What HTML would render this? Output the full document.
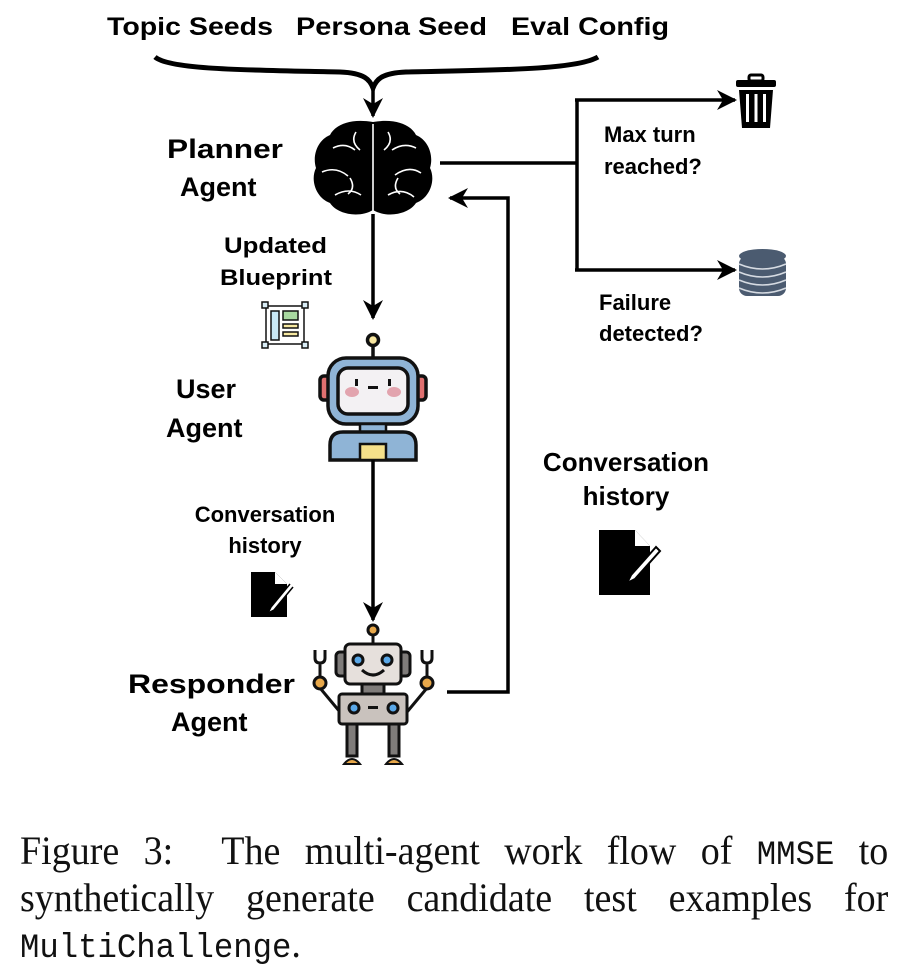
<!DOCTYPE html>
<html><head><meta charset="utf-8"><style>
html,body{margin:0;padding:0;background:#fff;}
body{position:relative;width:902px;height:974px;overflow:hidden;}
svg{display:block;}
.b{font-family:"Liberation Sans",Arial,sans-serif;font-weight:bold;fill:#000;}
.cap{position:absolute;left:20px;width:914px;transform:scaleX(0.95);transform-origin:0 0;font-family:"Liberation Serif",serif;font-size:40px;line-height:40px;color:#111;text-align:justify;text-align-last:justify;white-space:nowrap;}
.mm{font-family:"Liberation Mono",monospace;font-size:34px;}
</style></head><body>
<svg width="902" height="974" viewBox="0 0 902 974" xmlns="http://www.w3.org/2000/svg">
<defs>
<marker id="ah" viewBox="0 0 20 20" refX="18" refY="10" markerWidth="20" markerHeight="20" markerUnits="userSpaceOnUse" orient="auto">
<path d="M0,0 L20,10 L0,20 L6,10 Z" fill="#000"/>
</marker>
</defs>
<text class="b" x="107" y="35" font-size="25" textLength="166" lengthAdjust="spacingAndGlyphs">Topic Seeds</text>
<text class="b" x="296" y="35" font-size="25" textLength="191" lengthAdjust="spacingAndGlyphs">Persona Seed</text>
<text class="b" x="511" y="35" font-size="25" textLength="158" lengthAdjust="spacingAndGlyphs">Eval Config</text>
<path d="M155,57 C170,70 250,70 340,72 C365,73 370,80 373,88 C376,80 381,73 406,72 C496,70 576,70 598,57" fill="none" stroke="#000" stroke-width="5"/>
<line x1="373" y1="86" x2="373" y2="116" stroke="#000" stroke-width="3.5" marker-end="url(#ah)"/>
<g>
<path d="M373,122 C350,118 335,125 330,135 C318,140 312,155 316,168 C310,180 316,198 330,203 C338,215 360,218 373,210 C386,218 408,215 416,203 C430,198 436,180 430,168 C434,155 428,140 416,135 C411,125 396,118 373,122 Z" fill="#000"/>
<path d="M373,124 V212 M333,148 q12,-6 22,2 M392,150 q12,-8 24,-2 M322,172 q14,-6 26,4 M395,175 q14,-10 26,-2 M335,195 q14,-8 26,0 M388,195 q14,-8 26,2 M356,132 q-6,10 4,18 M388,132 q6,10 -4,18 M350,178 q6,10 -2,16 M398,178 q-6,10 2,16" fill="none" stroke="#fff" stroke-width="1.6"/>
</g>
<text class="b" x="167" y="158" font-size="27" textLength="116" lengthAdjust="spacingAndGlyphs">Planner</text>
<text class="b" x="180" y="196" font-size="27">Agent</text>
<line x1="440" y1="163" x2="577" y2="163" stroke="#000" stroke-width="3.5"/>
<line x1="577" y1="100" x2="577" y2="270" stroke="#000" stroke-width="3.5"/>
<line x1="575" y1="100" x2="735" y2="100" stroke="#000" stroke-width="3.5" marker-end="url(#ah)"/>
<line x1="575" y1="270" x2="735" y2="270" stroke="#000" stroke-width="3.5" marker-end="url(#ah)"/>
<g fill="#000">
<rect x="749" y="75" width="14" height="6" rx="2" fill="none" stroke="#000" stroke-width="3"/>
<rect x="736" y="80" width="40" height="7" rx="2"/>
<path d="M739,90 H773 L770,128 H742 Z"/>
<rect x="746" y="94" width="3" height="28" fill="#fff"/>
<rect x="754.5" y="94" width="3" height="28" fill="#fff"/>
<rect x="763" y="94" width="3" height="28" fill="#fff"/>
</g>
<g>
<rect x="739" y="256" width="47" height="40" rx="8" fill="#4b5b70"/>
<ellipse cx="762.5" cy="256" rx="23.5" ry="7" fill="#4b5b70"/>
<path d="M739,264 q23.5,10 47,0 M739,272 q23.5,10 47,0 M739,280 q23.5,10 47,0 M739,288 q23.5,10 47,0" fill="none" stroke="#d6dbe2" stroke-width="1.5"/>
</g>
<text class="b" x="604" y="142" font-size="22">Max turn</text>
<text class="b" x="604" y="174" font-size="22">reached?</text>
<text class="b" x="599" y="310" font-size="22">Failure</text>
<text class="b" x="599" y="341" font-size="22">detected?</text>
<line x1="373" y1="214" x2="373" y2="318" stroke="#000" stroke-width="3.5" marker-end="url(#ah)"/>
<text class="b" x="224" y="253" font-size="22" textLength="103" lengthAdjust="spacingAndGlyphs">Updated</text>
<text class="b" x="220" y="285" font-size="22" textLength="112" lengthAdjust="spacingAndGlyphs">Blueprint</text>
<g stroke="#111" stroke-width="1.5">
<rect x="266" y="306" width="38" height="38" fill="#fff"/>
<rect x="271" y="311" width="8" height="29" fill="#c9e8f5"/>
<rect x="283" y="311" width="15" height="9" fill="#a8d8a0"/>
<rect x="283" y="324" width="15" height="4" fill="#f6e8a0"/>
<rect x="283" y="332" width="15" height="4" fill="#f6e8a0"/>
<rect x="262" y="302" width="6" height="6" fill="#d8ecf5"/>
<rect x="302" y="302" width="6" height="6" fill="#d8ecf5"/>
<rect x="262" y="342" width="6" height="6" fill="#d8ecf5"/>
<rect x="302" y="342" width="6" height="6" fill="#d8ecf5"/>
</g>
<g stroke="#111" stroke-width="3.5">
<line x1="373" y1="345" x2="373" y2="358"/>
<circle cx="373" cy="340" r="5.5" fill="#f8e7a0"/>
<rect x="320" y="376" width="12" height="24" rx="4" fill="#e07070"/>
<rect x="414" y="376" width="12" height="24" rx="4" fill="#e07070"/>
<rect x="328" y="358" width="90" height="66" rx="18" fill="#8fb4d6"/>
<rect x="338" y="368" width="70" height="46" rx="10" fill="#f3f1f3"/>
<rect x="360" y="424" width="26" height="8" fill="#8fb4d6" stroke-width="2.5"/>
<path d="M330,460 V445 q0,-13 13,-13 H403 q13,0 13,13 V460 Z" fill="#8fb4d6"/>
<rect x="360" y="444" width="26" height="16" fill="#f5e08a" stroke-width="2.5"/>
</g>
<ellipse cx="352" cy="392" rx="7" ry="5" fill="#e2a4ae"/>
<ellipse cx="394" cy="392" rx="7" ry="5" fill="#e2a4ae"/>
<rect x="355" y="379" width="3" height="7" fill="#111"/>
<rect x="388" y="379" width="3" height="7" fill="#111"/>
<rect x="368" y="386" width="10" height="3" fill="#111"/>
<text class="b" x="176" y="398" font-size="27">User</text>
<text class="b" x="166" y="437" font-size="27">Agent</text>
<line x1="373" y1="460" x2="373" y2="620" stroke="#000" stroke-width="3.5" marker-end="url(#ah)"/>
<text class="b" x="265" y="522" font-size="22" text-anchor="middle">Conversation</text>
<text class="b" x="265" y="553" font-size="22" text-anchor="middle">history</text>
<path d="M251,572 H275 L287,584 V617 H251 Z" fill="#000"/>
<path d="M275,572 V584 H287" fill="#fff"/>
<path d="M290,584 L271,607 L268,613 L274,610 L293,587" fill="#fff" stroke="#000" stroke-width="1.5"/>
<g stroke="#111" stroke-width="3">
<line x1="373" y1="636" x2="373" y2="645"/>
<circle cx="373" cy="630" r="5" fill="#e8a84a"/>
<path d="M315,650 v8 q0,5 5,5 q5,0 5,-5 v-8 M320,663 v18" fill="none"/>
<path d="M422,650 v8 q0,5 5,5 q5,0 5,-5 v-8 M427,663 v18" fill="none"/>
<line x1="320" y1="688" x2="345" y2="718"/>
<line x1="427" y1="688" x2="402" y2="718"/>
<circle cx="320" cy="683" r="6" fill="#e8a84a"/>
<circle cx="427" cy="683" r="6" fill="#e8a84a"/>
<rect x="336" y="652" width="12" height="24" rx="4" fill="#7f7c7a"/>
<rect x="398" y="652" width="12" height="24" rx="4" fill="#7f7c7a"/>
<rect x="345" y="644" width="56" height="40" rx="5" fill="#e6e0dc"/>
<rect x="362" y="684" width="22" height="10" fill="#7f7c7a"/>
<rect x="339" y="694" width="68" height="30" rx="3" fill="#c9c2bd"/>
<rect x="347" y="724" width="10" height="32" fill="#7f7c7a"/>
<rect x="389" y="724" width="10" height="32" fill="#7f7c7a"/>
<circle cx="358" cy="660" r="5" fill="#5aa8e8"/>
<circle cx="387" cy="660" r="5" fill="#5aa8e8"/>
<circle cx="354" cy="708" r="5" fill="#5aa8e8"/>
<circle cx="393" cy="708" r="5" fill="#5aa8e8"/>
</g>
<path d="M362,670 q11,10 22,0" fill="none" stroke="#111" stroke-width="3"/>
<rect x="368" y="706" width="10" height="3" fill="#111"/>
<path d="M344,764 q8,-10 16,0 Z M386,764 q8,-10 16,0 Z" fill="#e8a84a" stroke="#111" stroke-width="2"/>
<text class="b" x="128" y="693" font-size="27" textLength="167" lengthAdjust="spacingAndGlyphs">Responder</text>
<text class="b" x="171" y="731" font-size="27">Agent</text>
<polyline points="447,692 508,692 508,198 450,198" fill="none" stroke="#000" stroke-width="3.5" marker-end="url(#ah)"/>
<text class="b" x="626" y="471" font-size="26" text-anchor="middle">Conversation</text>
<text class="b" x="626" y="505" font-size="26" text-anchor="middle">history</text>
<path d="M599,530 H635 L650,546 V595 H599 Z" fill="#000"/>
<path d="M635,530 V546 H650" fill="#fff"/>
<path d="M656,547 L631,575 L627,583 L635,579 L660,551 Z" fill="#fff" stroke="#000" stroke-width="2"/>
</svg>
<div class="cap" style="top:831px;">Figure 3:&nbsp; The multi-agent work flow of <span class="mm">MMSE</span> to</div>
<div class="cap" style="top:878px;">synthetically generate candidate test examples for</div>
<div class="cap" style="top:924px;text-align:left;text-align-last:left;"><span class="mm">MultiChallenge</span>.</div>
</body></html>
